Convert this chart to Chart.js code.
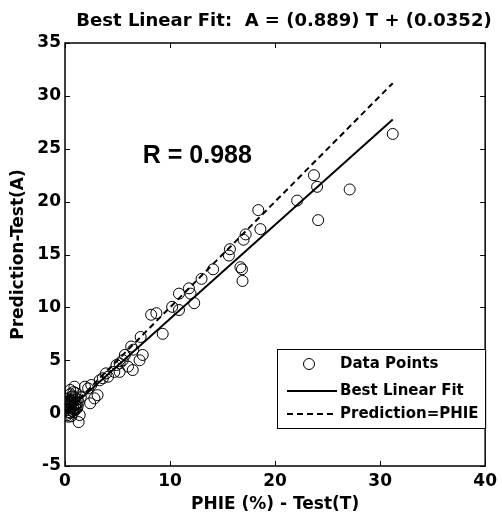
<!DOCTYPE html>
<html>
<head>
<meta charset="utf-8">
<script src="https://cdn.jsdelivr.net/npm/chart.js@4.4.1/dist/chart.umd.min.js"></script>
<style>
  html, body { margin: 0; padding: 0; background: #fff; }
  #wrap { width: 502px; height: 520px; }
</style>
</head>
<body>
<div id="wrap"><canvas id="mycanvas"></canvas></div>
<script>
// target values (T) and predictions (A)
var testT = [31.2, 27.1, 23.7, 24.0, 24.1, 22.1, 18.4, 18.6, 17.2, 17.0,
  15.7, 15.6, 16.7, 16.85, 16.9, 14.1, 13.0, 11.8, 11.95, 12.3,
  10.85, 10.2, 10.85, 8.7, 8.2, 9.3, 7.2, 6.3, 6.5, 7.4,
  7.1, 5.7, 5.5, 5.2, 4.9, 6.0, 6.45, 4.7, 5.2, 3.9,
  4.1, 3.6, 3.3, 2.8, 3.1, 2.2, 1.9, 2.5, 2.4, 1.3,
  0.5, 0.9, 0.3, 1.4,
  0.1, 0.2, 0.3, 0.3, 0.4, 0.4, 0.5, 0.5, 0.6, 0.6,
  0.7, 0.7, 0.8, 0.8, 0.9, 0.9, 1.0, 1.0, 1.1, 1.2,
  0.2, 0.5, 0.8, 1.3, 1.5, 0.4, 0.7, 1.0,
  0.3, 0.6, 0.9, 0.5, 0.8, 1.1, 0.2, 0.7, 1.2, 0.4];
var predA = [26.4, 21.15, 22.5, 21.4, 18.25, 20.1, 19.2, 17.4, 16.9, 16.4,
  15.5, 14.9, 13.8, 13.6, 12.5, 13.6, 12.7, 11.8, 11.3, 10.4,
  11.3, 10.05, 9.75, 9.45, 9.3, 7.5, 7.2, 6.3, 6.0, 5.5,
  5.0, 5.5, 5.0, 4.7, 4.55, 4.4, 4.07, 3.9, 3.9, 3.76,
  3.44, 3.3, 3.1, 1.4, 1.7, 2.34, 2.5, 2.66, 0.93, -0.85,
  2.2, 2.5, -0.34, -0.18,
  0.3, -0.2, 0.6, 1.4, 0.1, 1.0, 0.5, 1.8, -0.3, 0.9,
  0.2, 1.6, 0.7, 2.0, 0.3, 1.2, 0.8, 1.9, 0.4, 1.3,
  0.9, 0.0, 0.1, 1.0, 1.5, 0.7, 1.1, 0.5,
  0.8, 0.6, 1.5, 1.2, 0.4, 0.9, 1.1, 1.3, 0.6, 0.3];

// line end points
var fitT = [0, 31.2];
var fitA = [0.035, 27.77];
var idealT = [0, 31.2];
var idealA = [0, 31.2];

var xTicks = [0, 10, 20, 30, 40];
var yTicks = [-5, 0, 5, 10, 15, 20, 25, 30, 35];

var titleText = 'Best Linear Fit:  A = (0.889) T + (0.0352)';
var rText = 'R = 0.988';
var legendLabels = ['Data Points', 'Best Linear Fit', 'Prediction=PHIE'];

function toXY(xs, ys) {
  var out = [];
  for (var i in xs) out.push({x: xs[i], y: ys[i]});
  return out;
}

var wideFont = '"DejaVu Sans", sans-serif';

// frame, inward ticks, title, R text and legend box
var decor = {
  id: 'decor',
  afterDraw: function(chart) {
    var ctx = chart.ctx;
    var a = chart.chartArea;
    var xs = chart.scales.x, ys = chart.scales.y;
    ctx.save();
    ctx.strokeStyle = '#000';
    ctx.lineWidth = 1.5;
    ctx.strokeRect(a.left, a.top, a.right - a.left, a.bottom - a.top);
    ctx.lineWidth = 1;
    ctx.beginPath();
    xTicks.forEach(function(v) {
      var p = Math.round(xs.getPixelForValue(v)) + 0.5;
      ctx.moveTo(p, a.bottom); ctx.lineTo(p, a.bottom - 5);
      ctx.moveTo(p, a.top); ctx.lineTo(p, a.top + 5);
    });
    yTicks.forEach(function(v) {
      var p = Math.round(ys.getPixelForValue(v)) + 0.5;
      ctx.moveTo(a.left, p); ctx.lineTo(a.left + 5, p);
      ctx.moveTo(a.right, p); ctx.lineTo(a.right - 5, p);
    });
    ctx.stroke();

    ctx.fillStyle = '#000';
    ctx.textBaseline = 'middle';
    ctx.textAlign = 'center';
    ctx.font = 'bold 18px ' + wideFont;
    ctx.fillText(titleText, 284, 21);

    ctx.textAlign = 'left';
    ctx.font = 'bold 25px "Liberation Sans", Arial, sans-serif';
    ctx.fillText(rText, xs.getPixelForValue(7.4), ys.getPixelForValue(24.3));

    // legend
    var lx = 277, ly = 349, lw = a.right - lx, lh = 79;
    ctx.fillStyle = '#fff';
    ctx.fillRect(lx, ly, lw, lh);
    ctx.strokeStyle = '#000';
    ctx.lineWidth = 1;
    ctx.strokeRect(lx + 0.5, ly + 0.5, lw, lh);
    var rows = [364, 391, 414];
    ctx.beginPath();
    ctx.arc(309, rows[0], 5.5, 0, Math.PI * 2);
    ctx.stroke();
    ctx.lineWidth = 2;
    ctx.beginPath();
    ctx.moveTo(287, rows[1]); ctx.lineTo(337, rows[1]);
    ctx.stroke();
    ctx.setLineDash([6, 4]);
    ctx.beginPath();
    ctx.moveTo(287, rows[2]); ctx.lineTo(337, rows[2]);
    ctx.stroke();
    ctx.setLineDash([]);
    ctx.fillStyle = '#000';
    ctx.font = 'bold 15px ' + wideFont;
    for (var i = 0; i < legendLabels.length; i++) {
      ctx.fillText(legendLabels[i], 340, rows[i]);
    }
    ctx.restore();
  }
};

var ctx = document.getElementById('mycanvas');
var chart = new Chart(ctx, {
  type: 'scatter',
  data: {
    datasets: [
      {
        label: 'Data Points',
        data: toXY(testT, predA),
        pointStyle: 'circle',
        pointRadius: 5.5,
        pointBorderWidth: 1,
        borderColor: '#000',
        backgroundColor: 'rgba(0,0,0,0)',
        showLine: false
      },
      {
        label: 'Best Linear Fit',
        data: toXY(fitT, fitA),
        showLine: true,
        borderColor: '#000',
        borderWidth: 2,
        pointRadius: 0
      },
      {
        label: 'Prediction=PHIE',
        data: toXY(idealT, idealA),
        showLine: true,
        borderColor: '#000',
        borderWidth: 2,
        borderDash: [6, 4],
        pointRadius: 0
      }
    ]
  },
  options: {
    responsive: true,
    maintainAspectRatio: false,
    animation: false,
    layout: { padding: { top: 43, right: 13, left: 0, bottom: 0 } },
    plugins: {
      legend: { display: false },
      tooltip: { enabled: false }
    },
    scales: {
      x: {
        type: 'linear',
        min: 0, max: 40,
        afterFit: function(s) { s.height = 54; },
        afterBuildTicks: function(s) { s.ticks = xTicks.map(function(v) { return {value: v}; }); },
        grid: { display: false, drawTicks: false },
        border: { display: false },
        ticks: { color: '#000', padding: 5, font: { family: wideFont, size: 17, weight: 'bold' } },
        title: { display: true, text: 'PHIE (%) - Test(T)', color: '#000', padding: { top: 0, bottom: 5 },
          font: { family: wideFont, size: 17, weight: 'bold' } }
      },
      y: {
        type: 'linear',
        min: -5, max: 35,
        afterFit: function(s) { s.width = 65; },
        afterBuildTicks: function(s) { s.ticks = yTicks.map(function(v) { return {value: v}; }); },
        grid: { display: false, drawTicks: false },
        border: { display: false },
        ticks: { color: '#000', padding: 4, font: { family: wideFont, size: 17, weight: 'bold' } },
        title: { display: true, text: 'Prediction-Test(A)', color: '#000', padding: { top: 8, bottom: 0 },
          font: { family: wideFont, size: 17, weight: 'bold' } }
      }
    }
  },
  plugins: [decor]
});
</script>
</body>
</html>
